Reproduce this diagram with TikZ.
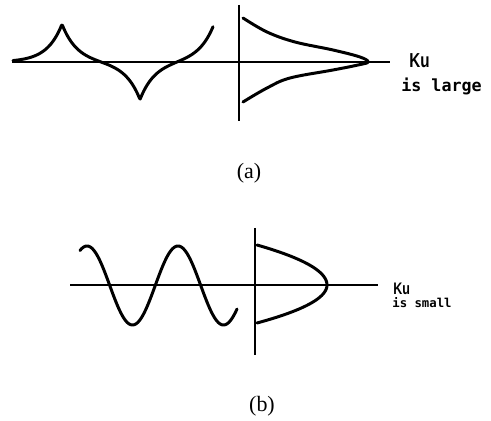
\documentclass[tikz,border=0pt]{standalone}
\usepackage{fontspec}
\setmainfont{Liberation Serif}
\newfontfamily\kufont{Liberation Sans Bold}
\newfontfamily\notefont{DejaVu Sans Mono Bold}
\newcommand\narrowtext[1]{\scalebox{0.75}[1]{#1}}
\usetikzlibrary{positioning}

\begin{document}
\begin{tikzpicture}[
    x = 0.02cm, y = -0.02cm,
    axis/.style = {line width=0.9pt},
    curve/.style = {line width=1.7pt, line join=round, line cap=round},
    ku/.style = {inner sep=0pt, anchor=base west},
    note/.style = {inner sep=0pt, anchor=base west},
    caption/.style = {font=\fontsize{12.5}{14}\selectfont, inner sep=0pt}
]
\useasboundingbox (0,0) rectangle (491,421);

% (a) Ku is large
\coordinate (a-l) at (12,62);
\coordinate (a-r) at (390,62);
\coordinate (a-t) at (239,5);
\coordinate (a-b) at (239,121);
\draw[axis] (a-l) -- (a-r);
\draw[axis] (a-t) -- (a-b);

\draw[curve] plot[domain=13:213, samples=240, smooth]
    (\x, {62 - 38*(exp(-abs(\x-62)/15) - exp(-abs(\x-140)/15) + exp(-abs(\x-214)/15))});
\draw[curve] plot[smooth, tension=0.6] coordinates {
    (243,18) (267,32) (295,42) (333,50) (360,57) (368,62)
    (358,65) (333,70) (290,78) (267,88) (243,102)};

\node[ku, font=\kufont\fontsize{11.5}{12}\selectfont] (ka) at (409,68) {\narrowtext{Ku}};
\node[note, font=\notefont\fontsize{9.5}{10}\selectfont] (la) at (401,92) {is large};
\node[caption] (cap-a) at (249,173) {(a)};

% (b) Ku is small
\coordinate (b-l) at (70,285);
\coordinate (b-r) at (378,285);
\coordinate (b-t) at (255,228);
\coordinate (b-b) at (255,355);
\draw[axis] (b-l) -- (b-r);
\draw[axis] (b-t) -- (b-b);

\draw[curve] plot[domain=80:237, samples=160, smooth]
    (\x, {285.5 - 39.5*cos(3.956*(\x-87))});
\draw[curve] plot[domain=245:285, samples=40, smooth]
    ({327 - 70*((\x-285)/40)^2}, \x);
\draw[curve] plot[domain=285:323, samples=40, smooth]
    ({327 - 70*((\x-285)/38)^2}, \x);

\node[ku, font=\kufont\fontsize{9.5}{10}\selectfont] (kb) at (393,295) {\narrowtext{Ku}};
\node[note, font=\notefont\fontsize{7}{8}\selectfont] (sb) at (392,308) {is small};
\node[caption] (cap-b) at (262,406) {(b)};

\end{tikzpicture}
\end{document}
